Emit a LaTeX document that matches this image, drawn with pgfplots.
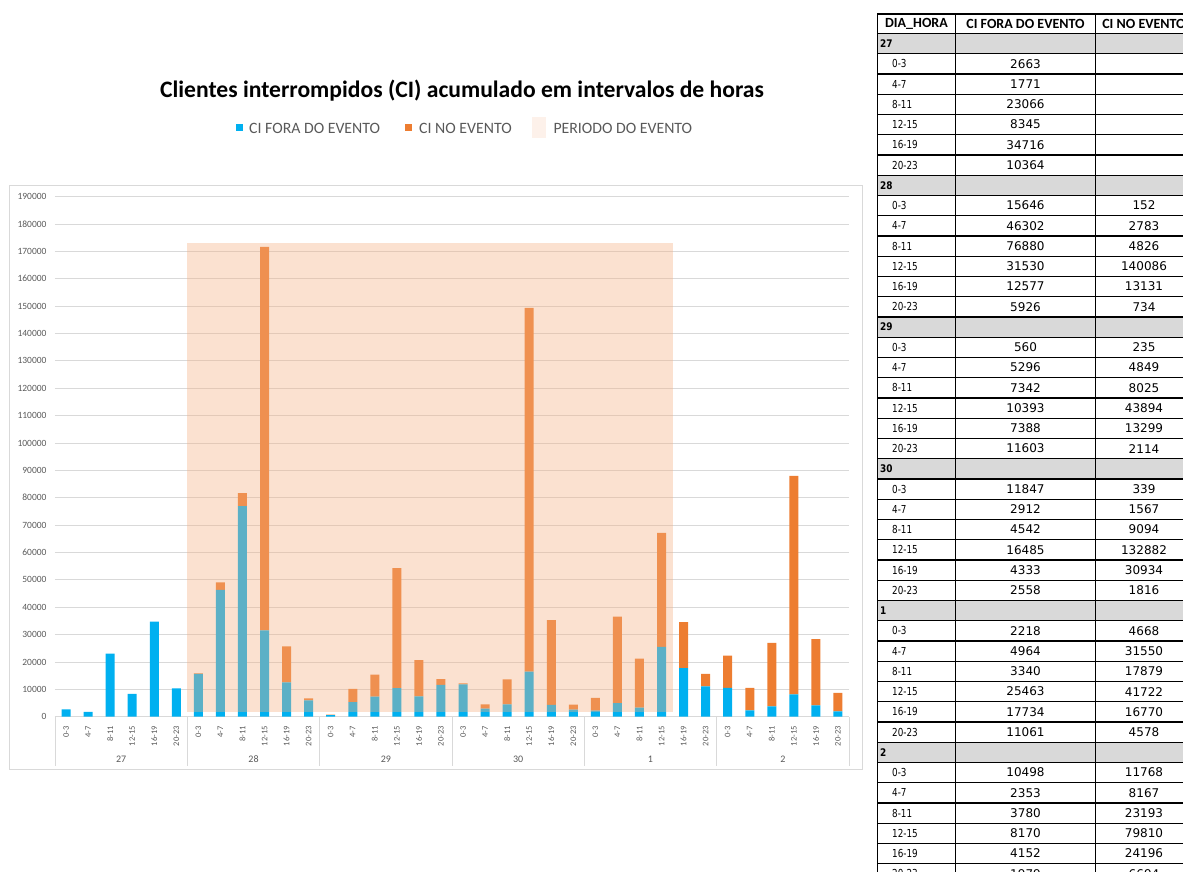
\documentclass[border=0pt]{standalone}
\usepackage{pgfplots}
\pgfplotsset{compat=1.18}
\usepackage{pgfplotstable}
\usepackage{graphicx}
\usepackage{fontspec}
\setmainfont{Carlito}
\newfontfamily\tabfont{DejaVu Sans}
\definecolor{cblue}{HTML}{00B0F0}
\definecolor{corange}{HTML}{ED7D31}
\definecolor{cshade}{HTML}{F4B183}
\definecolor{cshadeL}{HTML}{FDF1EA}
\definecolor{cgrid}{HTML}{D9D9D9}
\definecolor{ctext}{HTML}{595959}
\definecolor{cgrey}{HTML}{D9D9D9}

\pgfplotstableread{
x fora no
0 2663 0
1 1771 0
2 23066 0
3 8345 0
4 34716 0
5 10364 0
6 15646 152
7 46302 2783
8 76880 4826
9 31530 140086
10 12577 13131
11 5926 734
12 560 235
13 5296 4849
14 7342 8025
15 10393 43894
16 7388 13299
17 11603 2114
18 11847 339
19 2912 1567
20 4542 9094
21 16485 132882
22 4333 30934
23 2558 1816
24 2218 4668
25 4964 31550
26 3340 17879
27 25463 41722
28 17734 16770
29 11061 4578
30 10498 11768
31 2353 8167
32 3780 23193
33 8170 79810
34 4152 24196
35 1979 6694
}\datatable

\begin{document}
\begin{tikzpicture}[x=1pt,y=1pt]
\begin{scope}[shift={(-55,-155.3)}]
\useasboundingbox (0,0) rectangle (1183,872);
% chart frame
\draw[cgrid, line width=1pt] (10,686) rectangle (862.5,102);
% title
\node[anchor=base, inner sep=0, font=\bfseries\fontsize{23.6}{28}\selectfont] at (462,774.5) {Clientes interrompidos (CI) acumulado em intervalos de horas};
% legend
\fill[cblue] (236,741) rectangle (243,748);
\node[anchor=base west, inner sep=0, font=\fontsize{15.8}{18}\selectfont, text=ctext] at (249,738.7) {CI FORA DO EVENTO};
\fill[corange] (405,741) rectangle (412,748);
\node[anchor=base west, inner sep=0, font=\fontsize{15.8}{18}\selectfont, text=ctext] at (419,738.7) {CI NO EVENTO};
\fill[cshadeL] (532,734) rectangle (546,755);
\node[anchor=base west, inner sep=0, font=\fontsize{15.8}{18}\selectfont, text=ctext] at (553.3,738.7) {PERIODO DO EVENTO};
\end{scope}

\begin{axis}[
  anchor=south west, scale only axis,
  width=794pt, height=520.1pt,
  xmin=-0.5, xmax=35.5, ymin=0, ymax=190000,
  ybar stacked, bar width=9pt,
  axis line style={draw=none},
  ytick={0,10000,...,190000},
  ymajorgrids, grid style={cgrid, line width=0.9pt},
  major tick length=0pt,
  xtick pos=left, ytick pos=left,
  scaled y ticks=false,
  /pgf/number format/assume math mode=true,
  yticklabel style={/pgf/number format/fixed, /pgf/number format/1000 sep={}, font=\fontsize{9.5}{10}\selectfont, text=ctext, xshift=-5pt},
  xtick={0,...,35},
  xticklabels={0-3,4-7,8-11,12-15,16-19,20-23,0-3,4-7,8-11,12-15,16-19,20-23,0-3,4-7,8-11,12-15,16-19,20-23,0-3,4-7,8-11,12-15,16-19,20-23,0-3,4-7,8-11,12-15,16-19,20-23,0-3,4-7,8-11,12-15,16-19,20-23},
  xticklabel style={font=\fontsize{8.5}{10}\selectfont, text=ctext, yshift=-6pt, rotate=90, anchor=east},
  extra x ticks={-0.5,5.5,11.5,17.5,23.5,29.5,35.5},
  extra x tick labels={},
  extra x tick style={major tick length=49pt, tick align=outside, tick style={cgrid, line width=0.9pt}},
  clip=false,
]
\addplot[fill=cblue, draw=none] table[x=x,y=fora]{\datatable};
\addplot[fill=corange, draw=none] table[x=x,y=no]{\datatable};
\node[font=\fontsize{10}{12}\selectfont, text=ctext] at (axis cs:2.5,0) [yshift=-42.3pt] {27};
\node[font=\fontsize{10}{12}\selectfont, text=ctext] at (axis cs:8.5,0) [yshift=-42.3pt] {28};
\node[font=\fontsize{10}{12}\selectfont, text=ctext] at (axis cs:14.5,0) [yshift=-42.3pt] {29};
\node[font=\fontsize{10}{12}\selectfont, text=ctext] at (axis cs:20.5,0) [yshift=-42.3pt] {30};
\node[font=\fontsize{10}{12}\selectfont, text=ctext] at (axis cs:26.5,0) [yshift=-42.3pt] {1};
\node[font=\fontsize{10}{12}\selectfont, text=ctext] at (axis cs:32.5,0) [yshift=-42.3pt] {2};
\end{axis}

\begin{axis}[
  anchor=south west, scale only axis,
  width=794pt, height=520.1pt,
  xmin=-0.5, xmax=35.5, ymin=0, ymax=190000,
  hide axis,
]
\addplot[fill=cshade, fill opacity=0.38, draw=none] coordinates {(5.5,1600) (5.5,172900) (27.5,172900) (27.5,1600)} -- cycle;
\end{axis}

% table
\begin{scope}[shift={(-55,-155.3)}]
\clip (0,0) rectangle (1183,872);
\foreach \r/\g in {1/27,8/28,15/29,22/30,29/1,36/2}{
  \pgfmathsetmacro\yt{872-33.5-(\r-1)*20.25}
  \pgfmathsetmacro\yb{872-33.5-\r*20.25}
  \pgfmathsetmacro\yc{872-33.5-(\r-0.5)*20.25}
  \fill[cgrey] (877.3,\yt) rectangle (1200,\yb);
  \node[anchor=west, inner sep=0, font=\tabfont\bfseries\fontsize{10.5}{12}\selectfont] at (880,\yc) {\scalebox{0.85}[1]{\g}};
}
\node[font=\bfseries\fontsize{14}{16}\selectfont] at (916.5,848) {DIA\_HORA};
\node[font=\bfseries\fontsize{14}{16}\selectfont] at (1025.5,848) {CI FORA DO EVENTO};
\node[font=\bfseries\fontsize{14}{16}\selectfont] at (1144,848) {CI NO EVENTO};
\foreach \r/\h/\a in {2/0-3/2663,3/4-7/1771,4/8-11/23066,5/12-15/8345,6/16-19/34716,7/20-23/10364}{
  \pgfmathsetmacro\yc{872-33.5-(\r-0.5)*20.25}
  \node[anchor=west, inner sep=0, font=\tabfont\fontsize{11}{12}\selectfont] at (892,\yc) {\scalebox{0.8}[1]{\h}};
  \node[font=\tabfont\fontsize{12}{14}\selectfont] at (1025.5,\yc) {\a};
}
\foreach \r/\h/\a/\b in {9/0-3/15646/152, 10/4-7/46302/2783, 11/8-11/76880/4826, 12/12-15/31530/140086, 13/16-19/12577/13131, 14/20-23/5926/734,
16/0-3/560/235, 17/4-7/5296/4849, 18/8-11/7342/8025, 19/12-15/10393/43894, 20/16-19/7388/13299, 21/20-23/11603/2114,
23/0-3/11847/339, 24/4-7/2912/1567, 25/8-11/4542/9094, 26/12-15/16485/132882, 27/16-19/4333/30934, 28/20-23/2558/1816,
30/0-3/2218/4668, 31/4-7/4964/31550, 32/8-11/3340/17879, 33/12-15/25463/41722, 34/16-19/17734/16770, 35/20-23/11061/4578,
37/0-3/10498/11768, 38/4-7/2353/8167, 39/8-11/3780/23193, 40/12-15/8170/79810, 41/16-19/4152/24196, 42/20-23/1979/6694}{
  \pgfmathsetmacro\yc{872-33.5-(\r-0.5)*20.25}
  \node[anchor=west, inner sep=0, font=\tabfont\fontsize{11}{12}\selectfont] at (892,\yc) {\scalebox{0.8}[1]{\h}};
  \node[font=\tabfont\fontsize{12}{14}\selectfont] at (1025.5,\yc) {\a};
  \node[font=\tabfont\fontsize{12}{14}\selectfont] at (1144,\yc) {\b};
}
\draw[line width=1.3pt] (877.3,858) -- (1200,858);
\foreach \k in {0,...,42}{
  \draw[line width=1.3pt] (877.3,{872-33.5-\k*20.25}) -- (1200,{872-33.5-\k*20.25});
}
\foreach \xx in {877.3,955.7,1095.3}{
  \draw[line width=1.3pt] (\xx,858) -- (\xx,-20);
}
\end{scope}
\end{tikzpicture}
\end{document}
